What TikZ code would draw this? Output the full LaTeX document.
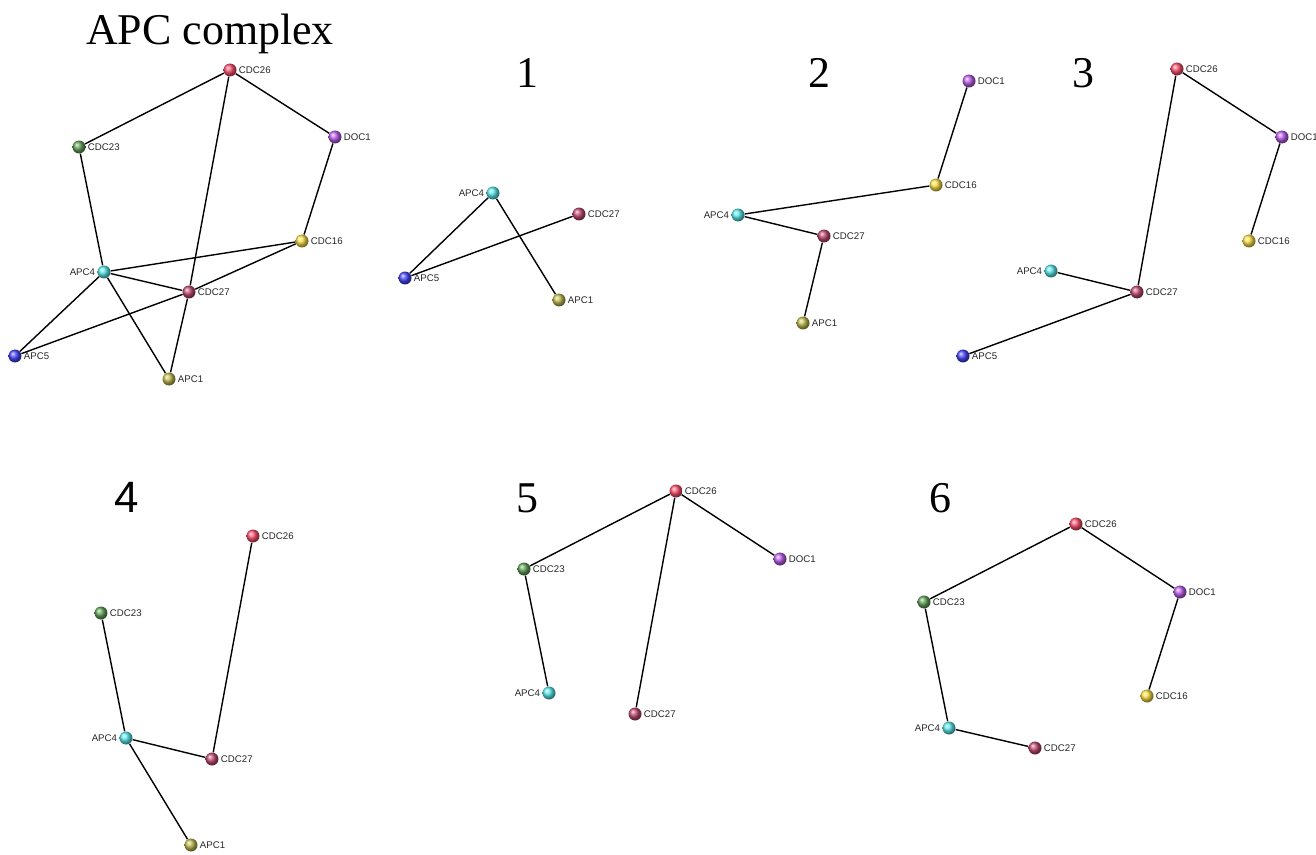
\documentclass[tikz,border=0pt]{standalone}
\usepackage{fontspec}
\setmainfont{Liberation Serif}
\setsansfont{Liberation Sans}

\definecolor{redball}{RGB}{255,80,110}
\definecolor{greenball}{RGB}{100,165,90}
\definecolor{purpleball}{RGB}{190,95,240}
\definecolor{yellowball}{RGB}{255,225,70}
\definecolor{cyanball}{RGB}{90,235,238}
\definecolor{maroonball}{RGB}{195,75,115}
\definecolor{blueball}{RGB}{70,70,255}
\definecolor{oliveball}{RGB}{195,190,80}

\tikzset{
    prot/.style={circle, inner sep=0pt, minimum size=0.26cm},
    lbl/.style={font=\sffamily\fontsize{5.5}{6}\selectfont, text=black!85, inner sep=1pt},
    cdc26/.style={prot, ball color=redball, label={[lbl]right:CDC26}},
    cdc23/.style={prot, ball color=greenball, label={[lbl]right:CDC23}},
    doc1/.style={prot, ball color=purpleball, label={[lbl]right:DOC1}},
    cdc16/.style={prot, ball color=yellowball, label={[lbl]right:CDC16}},
    apc4/.style={prot, ball color=cyanball, label={[lbl]left:APC4}},
    cdc27/.style={prot, ball color=maroonball, label={[lbl]right:CDC27}},
    apc5/.style={prot, ball color=blueball, label={[lbl]right:APC5}},
    apc1/.style={prot, ball color=oliveball, label={[lbl]right:APC1}},
    link/.style={line width=0.8pt},
    heading/.style={font=\fontsize{25}{28}\selectfont, anchor=base, inner sep=0pt}
}

\begin{document}
\begin{tikzpicture}[x=0.02cm, y=-0.02cm]
    \useasboundingbox (0,0) rectangle (1316,855);

    % headings
    \node[heading] (title) at (210, 45) {APC complex};
    \node[heading] (num1) at (527, 88) {1};
    \node[heading] (num2) at (819, 88) {2};
    \node[heading] (num3) at (1083, 88) {3};
    \node[heading, font=\sffamily\fontsize{25}{28}\selectfont] (num4) at (127, 512) {4};
    \node[heading] (num5) at (527, 512) {5};
    \node[heading] (num6) at (940, 512) {6};

    % whole complex
    \node[cdc26] (all26) at (230, 70) {};
    \node[cdc23] (all23) at (79, 147) {};
    \node[doc1] (alldoc) at (335, 137) {};
    \node[cdc16] (all16) at (302, 241) {};
    \node[apc4] (all4) at (104, 272) {};
    \node[cdc27] (all27) at (189, 292) {};
    \node[apc5] (all5) at (15, 356) {};
    \node[apc1] (all1) at (169, 379) {};

    \draw[link] (all26) -- (all23);
    \draw[link] (all26) -- (alldoc);
    \draw[link] (all26) -- (all27);
    \draw[link] (all27) -- (all1);
    \draw[link] (all23) -- (all4);
    \draw[link] (alldoc) -- (all16);
    \draw[link] (all16) -- (all4);
    \draw[link] (all16) -- (all27);
    \draw[link] (all27) -- (all5);
    \draw[link] (all4) -- (all27);
    \draw[link] (all4) -- (all5);
    \draw[link] (all4) -- (all1);

    % module 1
    \node[apc4] (m1apc4) at (493, 193) {};
    \node[cdc27] (m1cdc27) at (579, 214) {};
    \node[apc5] (m1apc5) at (405, 278) {};
    \node[apc1] (m1apc1) at (559, 300) {};

    \draw[link] (m1apc4) -- (m1apc5);
    \draw[link] (m1apc4) -- (m1apc1);
    \draw[link] (m1apc5) -- (m1cdc27);

    % module 2
    \node[doc1] (m2doc1) at (969, 81) {};
    \node[cdc16] (m2cdc16) at (936, 185) {};
    \node[apc4] (m2apc4) at (738, 215) {};
    \node[cdc27] (m2cdc27) at (824, 236) {};
    \node[apc1] (m2apc1) at (803, 323) {};

    \draw[link] (m2doc1) -- (m2cdc16);
    \draw[link] (m2cdc16) -- (m2apc4);
    \draw[link] (m2apc4) -- (m2cdc27);
    \draw[link] (m2cdc27) -- (m2apc1);

    % module 3
    \node[cdc26] (m3cdc26) at (1177, 69) {};
    \node[doc1] (m3doc1) at (1282, 137) {};
    \node[cdc16] (m3cdc16) at (1249, 241) {};
    \node[apc4] (m3apc4) at (1051, 271) {};
    \node[cdc27] (m3cdc27) at (1137, 292) {};
    \node[apc5] (m3apc5) at (963, 356) {};

    \draw[link] (m3cdc26) -- (m3doc1);
    \draw[link] (m3doc1) -- (m3cdc16);
    \draw[link] (m3cdc26) -- (m3cdc27);
    \draw[link] (m3apc4) -- (m3cdc27);
    \draw[link] (m3cdc27) -- (m3apc5);

    % module 4
    \node[cdc26] (m4cdc26) at (253, 536) {};
    \node[cdc23] (m4cdc23) at (101, 613) {};
    \node[apc4] (m4apc4) at (126, 738) {};
    \node[cdc27] (m4cdc27) at (212, 759) {};
    \node[apc1] (m4apc1) at (191, 845) {};

    \draw[link] (m4cdc26) -- (m4cdc27);
    \draw[link] (m4cdc23) -- (m4apc4);
    \draw[link] (m4apc4) -- (m4cdc27);
    \draw[link] (m4apc4) -- (m4apc1);

    % module 5
    \node[cdc26] (m5cdc26) at (676, 491) {};
    \node[cdc23] (m5cdc23) at (524, 569) {};
    \node[doc1] (m5doc1) at (780, 559) {};
    \node[apc4] (m5apc4) at (549, 693) {};
    \node[cdc27] (m5cdc27) at (635, 714) {};

    \draw[link] (m5cdc26) -- (m5cdc23);
    \draw[link] (m5cdc26) -- (m5doc1);
    \draw[link] (m5cdc26) -- (m5cdc27);
    \draw[link] (m5cdc23) -- (m5apc4);

    % module 6
    \node[cdc26] (m6cdc26) at (1076, 524) {};
    \node[cdc23] (m6cdc23) at (924, 602) {};
    \node[doc1] (m6doc1) at (1180, 592) {};
    \node[cdc16] (m6cdc16) at (1147, 696) {};
    \node[apc4] (m6apc4) at (949, 728) {};
    \node[cdc27] (m6cdc27) at (1035, 748) {};

    \draw[link] (m6cdc26) -- (m6cdc23);
    \draw[link] (m6cdc26) -- (m6doc1);
    \draw[link] (m6doc1) -- (m6cdc16);
    \draw[link] (m6cdc23) -- (m6apc4);
    \draw[link] (m6apc4) -- (m6cdc27);
\end{tikzpicture}
\end{document}
